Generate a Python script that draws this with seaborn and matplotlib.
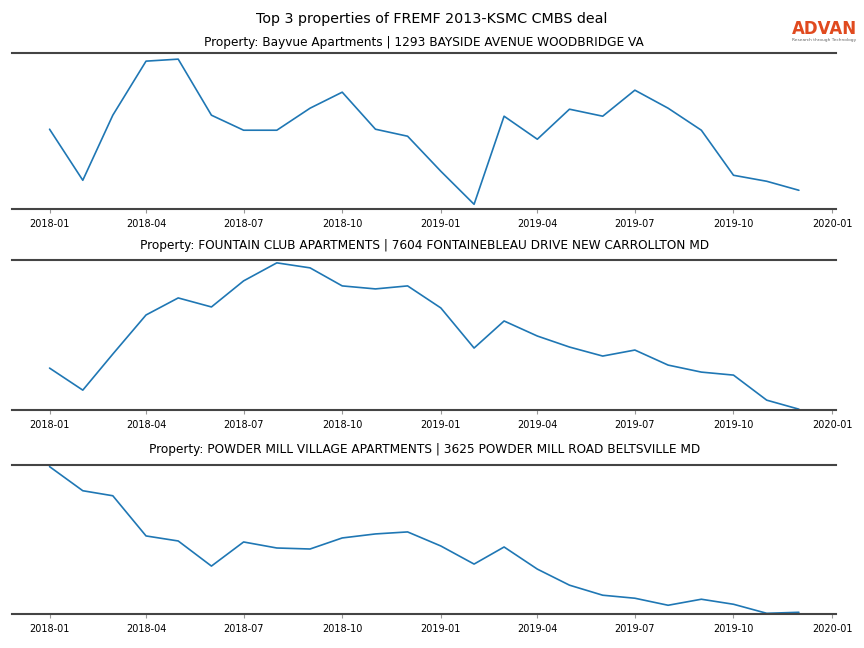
import seaborn as sns
import pandas as pd
import matplotlib.pyplot as plt
import matplotlib.dates as mdates

months = pd.date_range("2018-01-01", "2019-12-01", freq="MS")

# visits (no y scale shown)
bayvue = [80, 29, 94, 148, 150, 94, 79, 79, 101, 117, 80, 73,
          38, 5, 93, 70, 100, 93, 119, 101, 79, 34, 28, 19]
fountain = [42, 20, 56, 95, 112, 103, 129, 147, 142, 124, 121, 124,
            102, 62, 89, 74, 63, 54, 60, 45, 38, 35, 10, 1]
powder = [147, 123, 118, 78, 73, 48, 72, 66, 65, 76, 80, 82,
          68, 50, 67, 45, 29, 19, 16, 9, 15, 10, 1, 2]
ylims = [(0, 156), (0, 150), (0, 149)]

titles = [
    "Property: Bayvue Apartments | 1293 BAYSIDE AVENUE WOODBRIDGE VA",
    "Property: FOUNTAIN CLUB APARTMENTS | 7604 FONTAINEBLEAU DRIVE NEW CARROLLTON MD",
    "Property: POWDER MILL VILLAGE APARTMENTS | 3625 POWDER MILL ROAD BELTSVILLE MD",
]

sns.set_theme(style="white")
plt.rcParams["text.color"] = "black"
plt.rcParams["xtick.labelcolor"] = "black"

fig = plt.figure(figsize=(8.64, 6.48), dpi=100)
boxes = [[0.014, 0.677, 0.954, 0.241],
         [0.014, 0.367, 0.954, 0.232],
         [0.014, 0.052, 0.954, 0.231]]
pads = [5, 8, 8.5]

for box, vals, ttl, yl, pd_ in zip(boxes, [bayvue, fountain, powder], titles, ylims, pads):
    ax = fig.add_axes(box)
    df = pd.DataFrame({"month": months, "visits": vals})
    sns.lineplot(data=df, x="month", y="visits", ax=ax, color="#1f77b4", linewidth=1.2)
    ax.set_title(ttl, fontsize=8.7, pad=pd_, color="black")
    ax.set_ylim(*yl)
    ax.set_xlabel("")
    ax.set_ylabel("")
    ax.set_yticks([])
    ax.xaxis.set_major_locator(mdates.MonthLocator(bymonth=[1, 4, 7, 10]))
    ax.xaxis.set_major_formatter(mdates.DateFormatter("%Y-%m"))
    ax.tick_params(axis="x", labelsize=7, length=3, width=0.8, color="#999999",
                   bottom=True, pad=4, labelcolor="black")
    for s in ["left", "right"]:
        ax.spines[s].set_visible(False)
    for s in ["top", "bottom"]:
        ax.spines[s].set_color("#444444")
        ax.spines[s].set_linewidth(1.5)

fig.suptitle("Top 3 properties of FREMF 2013-KSMC CMBS deal", fontsize=10.3, y=0.982,
             color="black")

# logo
fig.text(0.917, 0.955, "ADVAN", color="#e04a1f", fontsize=12, fontweight="semibold",
         va="center")
fig.text(0.917, 0.939, "Research through Technology", color="#666666", fontsize=3.2,
         va="center")

fig.savefig("out.png", dpi=100)
